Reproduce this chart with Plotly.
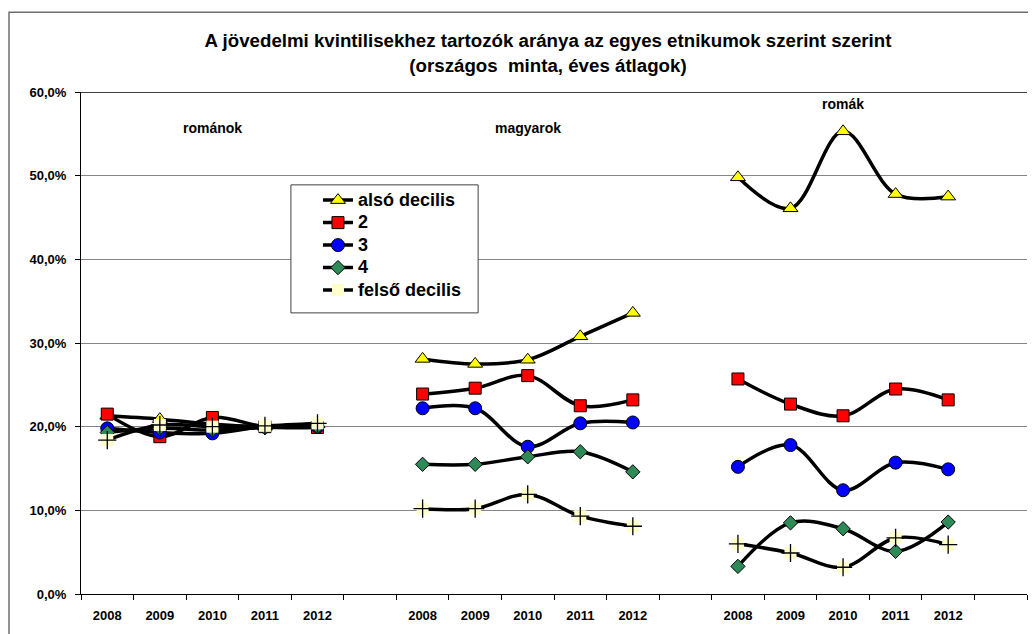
import plotly.graph_objects as go

# ── data (shares per income quintile, by ethnic group and year) ──────────────
years = ["2008", "2009", "2010", "2011", "2012"]
groups = ["románok", "magyarok", "romák"]
series_names = ["alsó decilis", "2", "3", "4", "felső decilis"]

# values per series: románok 2008-2012, magyarok 2008-2012, romák 2008-2012
also_decilis = [0.213, 0.209, 0.203, 0.200, 0.203,
                0.281, 0.275, 0.280, 0.308, 0.336,
                0.498, 0.461, 0.553, 0.478, 0.475]
kv2 = [0.215, 0.188, 0.211, 0.200, 0.199,
       0.239, 0.246, 0.261, 0.225, 0.232,
       0.257, 0.227, 0.213, 0.245, 0.232]
kv3 = [0.198, 0.193, 0.192, 0.200, 0.200,
       0.222, 0.222, 0.176, 0.204, 0.205,
       0.152, 0.178, 0.124, 0.157, 0.149]
kv4 = [0.193, 0.198, 0.196, 0.199, 0.200,
       0.155, 0.155, 0.164, 0.170, 0.146,
       0.033, 0.085, 0.078, 0.051, 0.086]
felso_decilis = [0.184, 0.202, 0.200, 0.201, 0.204,
                 0.102, 0.102, 0.119, 0.093, 0.081,
                 0.060, 0.049, 0.032, 0.067, 0.059]

label_y = [0.557, 0.557, 0.586]

# ── styling ──────────────────────────────────────────────────────────────────
FONT = "Liberation Sans, Arial, sans-serif"
GRID = "#868686"
styles = [
    dict(symbol="triangle-up", color="#FFFF00", size=13, line=dict(color="black", width=1)),
    dict(symbol="square", color="#FF0000", size=12, line=dict(color="black", width=1)),
    dict(symbol="circle", color="#0000FF", size=13, line=dict(color="black", width=1)),
    dict(symbol="diamond", color="#2E8B57", size=11, line=dict(color="black", width=1)),
    dict(symbol="square", color="#FFFFCC", size=12, line=dict(width=0)),
]
values = [also_decilis, kv2, kv3, kv4, felso_decilis]


def with_gaps(vals):
    """Split the flat series into groups, separated by an empty category."""
    xs, ys = [], []
    for g in range(len(groups)):
        for i in range(len(years)):
            xs.append(g * (len(years) + 1) + i)
            ys.append(vals[g * len(years) + i])
        if g < len(groups) - 1:
            xs.append(g * (len(years) + 1) + len(years))
            ys.append(None)
    return xs, ys


fig = go.Figure()
for name, vals, st in zip(series_names, values, styles):
    xs, ys = with_gaps(vals)
    fig.add_trace(go.Scatter(
        x=xs, y=ys, mode="lines+markers",
        name=f"<span style='font-size:18px'>{name}</span>",
        line=dict(color="black", width=3.5, shape="spline", smoothing=1),
        marker=st, connectgaps=False,
    ))
# black plus on top of the light-yellow squares
xs, ys = with_gaps(felso_decilis)
fig.add_trace(go.Scatter(
    x=xs, y=ys, mode="markers", showlegend=False, hoverinfo="skip",
    marker=dict(symbol="cross-thin-open", size=13, color="black",
                line=dict(color="black", width=1.3)),
))

n_cat = len(groups) * (len(years) + 1) - 1
tickvals = [g * (len(years) + 1) + i for g in range(len(groups)) for i in range(len(years))]
ticktext = years * len(groups)

for g, (grp, yy) in enumerate(zip(groups, label_y)):
    fig.add_annotation(
        x=g * (len(years) + 1) + 2, y=yy, text=f"<b>{grp}</b>", showarrow=False,
        font=dict(size=14, color="black", family=FONT),
    )

# outer chart frame, top border line and legend box
fig.add_shape(type="rect", xref="paper", yref="paper",
              x0=-0.0761, x1=1.05, y0=-0.2, y1=1.159,
              line=dict(color="#6e6e6e", width=1.5))
fig.add_shape(type="line", xref="paper", yref="y", x0=0, x1=1, y0=0.6, y1=0.6,
              line=dict(color="black", width=1.5))
fig.add_shape(type="rect", xref="paper", yref="paper",
              x0=0.2219, x1=0.4198, y0=0.560, y1=0.815,
              fillcolor="white", line=dict(color="#404040", width=1), layer="above")

# the page body adds an 8px margin, so the figure is 8px smaller than the window
fig.update_layout(
    width=1028, height=626,
    margin=dict(l=73, r=9, t=84, b=40),
    paper_bgcolor="white", plot_bgcolor="white",
    separators=", ",
    font=dict(family=FONT, color="black", size=13),
    title=dict(
        text="<b>A jövedelmi kvintilisekhez tartozók aránya az egyes etnikumok szerint szerint"
             "<br>(országos  minta, éves átlagok)</b>",
        x=0.5253, xanchor="center", y=0.937, yanchor="top", yref="container",
        font=dict(size=18.7, family=FONT, color="black"),
    ),
    showlegend=True,
    legend=dict(
        x=0.2505, y=0.817, xanchor="left", yanchor="top",
        bgcolor="rgba(0,0,0,0)", borderwidth=0,
        font=dict(size=15, family=FONT, color="black", weight="bold"),
        itemwidth=30, tracegroupgap=0,
    ),
    xaxis=dict(
        range=[-0.5, n_cat + 0.5], tickvals=tickvals, ticktext=ticktext,
        ticks="", showgrid=False, zeroline=False,
        showline=True, linecolor="black", linewidth=1,
        tickfont=dict(size=13, family=FONT, weight="bold"),
        minor=dict(tickvals=[k - 0.5 for k in range(n_cat + 2)], ticks="outside",
                   ticklen=5, tickcolor="black", showgrid=False),
        ticklabelstandoff=9,
    ),
    yaxis=dict(
        range=[0, 0.6], dtick=0.1, tickformat=".1%",
        ticks="outside", ticklen=5, tickcolor="black",
        showgrid=True, gridcolor=GRID, gridwidth=1, zeroline=False,
        showline=True, linecolor="black", linewidth=1,
        tickfont=dict(size=13, family=FONT, weight="bold"),
        ticklabelstandoff=6,
    ),
)

fig.write_html("out.html")
